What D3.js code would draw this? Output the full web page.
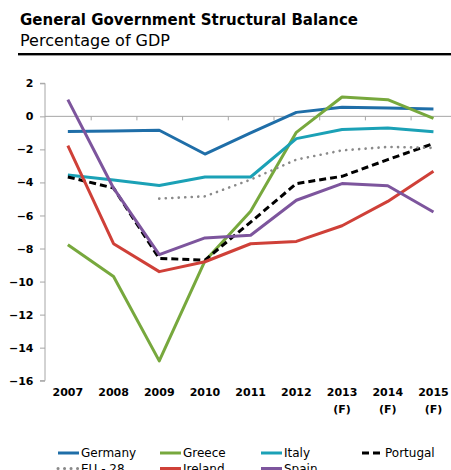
<!DOCTYPE html>
<html><head><meta charset="utf-8">
<script src="https://cdn.jsdelivr.net/npm/d3@7"></script>
<style>
html,body{margin:0;padding:0;background:#fff;overflow:hidden}
svg{display:block;font-family:"DejaVu Sans",sans-serif}
</style></head>
<body>
<svg id="c" width="451" height="470"></svg>
<script>
const years = ['2007','2008','2009','2010','2011','2012','2013','2014','2015'];
const yearSub = ['','','','','','','(F)','(F)','(F)'];
const yTicks = [2,0,-2,-4,-6,-8,-10,-12,-14,-16];
const germany  = [-0.92,-0.88,-0.84,-2.28,-1.0,0.24,0.55,0.5,0.45];
const greece   = [-7.77,-9.69,-14.8,-8.75,-5.75,-0.97,1.17,1.01,-0.12];
const italy    = [-3.55,-3.85,-4.18,-3.67,-3.67,-1.35,-0.8,-0.7,-0.93];
const portugal = [-3.67,-4.34,-8.6,-8.7,-6.4,-4.07,-3.63,-2.62,-1.65];
const eu28     = [null,null,-4.98,-4.84,-3.83,-2.62,-2.06,-1.85,-1.91];
const ireland  = [-1.77,-7.71,-9.4,-8.8,-7.71,-7.57,-6.62,-5.15,-3.33];
const spain    = [1.01,-4.35,-8.37,-7.36,-7.2,-5.08,-4.07,-4.2,-5.79];
const seriesNames = ['Germany','Greece','Italy','Portugal','EU - 28','Ireland','Spain'];
const seriesData = [germany,greece,italy,portugal,eu28,ireland,spain];

const styles = {
  'Germany': {c:'#1f6ea8', w:3, d:null},
  'Greece': {c:'#77a83d', w:3, d:null},
  'Italy': {c:'#1ba1b6', w:3, d:null},
  'Portugal': {c:'#000', w:3, d:'7,4'},
  'EU - 28': {c:'#8a8a8a', w:2.6, d:'0.1,6.4', cap:'round'},
  'Ireland': {c:'#cf4038', w:3, d:null},
  'Spain': {c:'#7d559d', w:3, d:null}
};

const svg = d3.select('#c');
// title
svg.append('text').attr('x',20).attr('y',25).attr('font-weight','bold').attr('font-size',15).text('General Government Structural Balance');
svg.append('text').attr('x',20).attr('y',45.5).attr('font-size',16).text('Percentage of GDP');
svg.append('line').attr('x1',18).attr('x2',451).attr('y1',54).attr('y2',54).attr('stroke','#000').attr('stroke-width',2);
svg.append('line').attr('x1',18).attr('x2',451).attr('y1',55.5).attr('y2',55.5).attr('stroke','#999').attr('stroke-width',1);

const x = d3.scaleBand().domain(years).range([45, 456.3]);
const y = d3.scaleLinear().domain([-16,2]).range([380.7,83.3]);
const cx = d => x(d) + x.bandwidth()/2;

// y axis
const yAx = svg.append('g').attr('transform','translate(45,0)')
  .call(d3.axisLeft(y).tickValues(yTicks).tickSize(5).tickPadding(6).tickFormat(d3.format('d')));
yAx.select('.domain').attr('stroke','#a6a6a6').attr('d','M-5,'+y(2)+'H0V'+y(-16)+'H-5');
yAx.selectAll('.tick line').attr('stroke','#a6a6a6');
yAx.selectAll('.tick text').attr('font-family','DejaVu Sans').attr('font-weight','bold').attr('font-size',11).attr('fill','#000').attr('x',-11.5);

// zero line with category boundary ticks
const xAx = svg.append('g').attr('transform','translate(0,'+y(0)+')')
  .call(d3.axisBottom(x).tickValues(years.slice(1)).tickSize(4).tickFormat(''));
xAx.select('.domain').attr('stroke','#a6a6a6').attr('d','M45,0H456.3');
xAx.selectAll('.tick').attr('transform', d => 'translate('+(x(d)+0.5)+',0)');
xAx.selectAll('.tick line').attr('stroke','#a6a6a6');

// category labels
const lab = svg.append('g');
years.forEach((yr,i)=>{
  const t = lab.append('text').attr('x',cx(yr)).attr('y',396).attr('text-anchor','middle')
    .attr('font-weight','bold').attr('font-size',11).text(yr);
  if (yearSub[i]) lab.append('text').attr('x',cx(yr)).attr('y',412.5).attr('text-anchor','middle')
    .attr('font-weight','bold').attr('font-size',11).text(yearSub[i]);
});

// lines
const line = d3.line().defined(d=>d.v!==null).x(d=>cx(d.k)).y(d=>y(d.v));
seriesNames.forEach((n,i)=>{
  const s = styles[n];
  const data = years.map((k,j)=>({k:k,v:seriesData[i][j]}));
  svg.append('path').datum(data).attr('d',line).attr('fill','none')
    .attr('stroke',s.c).attr('stroke-width',s.w)
    .attr('stroke-dasharray',s.d).attr('stroke-linecap',s.cap||'butt').attr('stroke-linejoin','round');
});

// legend
const legX = [58,160,261,362];
seriesNames.forEach((n,i)=>{
  const s = styles[n];
  const col = i%4, row = Math.floor(i/4);
  const lx = legX[col], ly = 453 + row*15.5;
  svg.append('line').attr('x1',lx).attr('x2',lx+21).attr('y1',ly).attr('y2',ly)
    .attr('stroke',s.c).attr('stroke-width',3).attr('stroke-dasharray',s.d).attr('stroke-linecap',s.cap||'butt');
  svg.append('text').attr('x',lx+23).attr('y',ly+4).attr('font-size',12).text(n);
});
</script>
</body></html>
